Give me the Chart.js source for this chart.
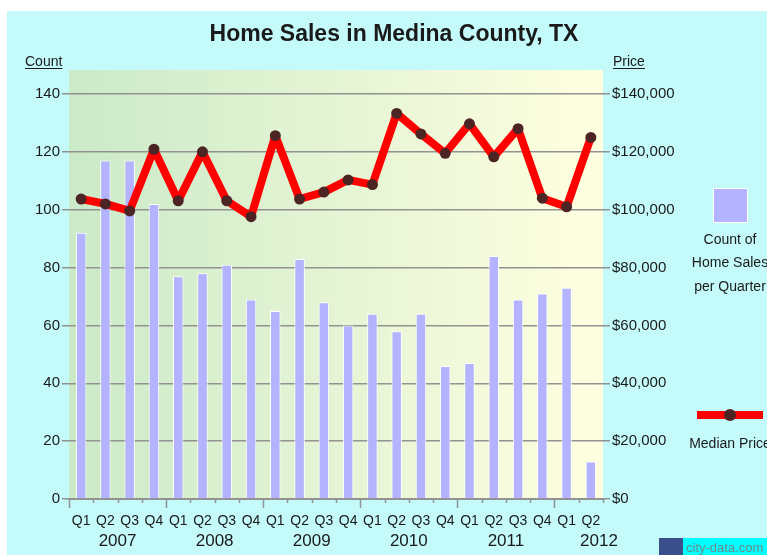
<!DOCTYPE html>
<html>
<head>
<meta charset="utf-8">
<title>Home Sales in Medina County, TX</title>
<script src="https://cdn.jsdelivr.net/npm/chart.js@4/dist/chart.umd.min.js"></script>
<style>
  html, body { margin: 0; padding: 0; background: #fff; }
  #wrap { position: relative; width: 767px; height: 555px; }
</style>
</head>
<body>
<div id="wrap"><canvas id="sales-chart" width="767" height="555"></canvas></div>
<script>
// quarters from 2007 Q1 to 2012 Q2
const quarters = ['Q1', 'Q2', 'Q3', 'Q4', 'Q1', 'Q2', 'Q3', 'Q4', 'Q1', 'Q2', 'Q3', 'Q4',
                  'Q1', 'Q2', 'Q3', 'Q4', 'Q1', 'Q2', 'Q3', 'Q4', 'Q1', 'Q2'];
const years = ['2007', '2008', '2009', '2010', '2011', '2012'];
const salesCount = [92, 117, 117, 102, 77, 78, 81, 69, 65, 83, 68, 60,
                    64, 58, 64, 46, 47, 84, 69, 71, 73, 13];
const medianPrice = [103700, 102000, 99600, 120900, 103100, 120000, 103100, 97600, 125600, 103700, 106100, 110300,
                     108700, 133300, 126200, 119500, 129700, 118300, 128000, 104000, 101000, 125000];
const countTicks = [0, 20, 40, 60, 80, 100, 120, 140];
const priceTicks = [0, 20000, 40000, 60000, 80000, 100000, 120000, 140000];

const FONT = '"Liberation Sans", Arial, sans-serif';
const TEXT = '#1a1a1a';
const GRID = '#929292';

// background, plot gradient and all the extra text
const decorations = {
    id: 'decorations',
    beforeDraw(chart) {
        const ctx = chart.ctx;
        const a = chart.chartArea;
        ctx.save();
        ctx.fillStyle = '#fff';
        ctx.fillRect(0, 0, chart.width, chart.height);
        ctx.fillStyle = '#c4fafa';
        ctx.fillRect(7, 11, chart.width - 7, chart.height - 11);
        const g = ctx.createLinearGradient(a.left, 0, a.right, 0);
        g.addColorStop(0, '#cbeac8');
        g.addColorStop(1, '#ffffe0');
        ctx.fillStyle = g;
        ctx.fillRect(a.left, a.top, a.right - a.left, a.bottom - a.top);
        ctx.restore();
    },
    afterDraw(chart) {
        const ctx = chart.ctx;
        const a = chart.chartArea;
        const xs = chart.scales.x;
        const step = xs.getPixelForValue(1) - xs.getPixelForValue(0);
        ctx.save();

        // title
        ctx.fillStyle = TEXT;
        ctx.font = 'bold 23px ' + FONT;
        ctx.textAlign = 'center';
        ctx.textBaseline = 'alphabetic';
        ctx.fillText('Home Sales in Medina County, TX', 394, 41);

        // axis captions, underlined
        ctx.font = '14px ' + FONT;
        ctx.textAlign = 'left';
        [['Count', 25], ['Price', 613]].forEach(([t, x]) => {
            ctx.fillText(t, x, 66);
            const w = ctx.measureText(t).width;
            ctx.fillRect(x, 68, w, 1);
        });

        // x tick marks, longer at year boundaries
        ctx.strokeStyle = GRID;
        ctx.lineWidth = 1.5;
        for (let k = 0; k <= quarters.length; k++) {
            const x = Math.round(a.left + k * step) + 0.5;
            ctx.beginPath();
            ctx.moveTo(x, a.bottom);
            ctx.lineTo(x, a.bottom + (k % 4 === 0 ? 9 : 4));
            ctx.stroke();
        }

        // year labels under the quarters
        ctx.fillStyle = TEXT;
        ctx.font = '17px ' + FONT;
        ctx.textAlign = 'center';
        ctx.textBaseline = 'middle';
        years.forEach((y, i) => {
            let x = xs.getPixelForValue(i * 4) + 1.5 * step;
            x = Math.min(x, a.right - 4);
            ctx.fillText(y, x, 541);
        });

        // legend: bars
        ctx.fillStyle = '#b3b3ff';
        ctx.fillRect(713, 188, 35, 35);
        ctx.strokeStyle = '#fff';
        ctx.lineWidth = 1;
        ctx.strokeRect(713.5, 188.5, 34, 34);
        ctx.fillStyle = TEXT;
        ctx.font = '14px ' + FONT;
        ctx.fillText('Count of', 730, 240);
        ctx.fillText('Home Sales', 730, 263);
        ctx.fillText('per Quarter', 730, 287);

        // legend: line
        ctx.strokeStyle = '#ff0000';
        ctx.lineWidth = 8;
        ctx.beginPath();
        ctx.moveTo(697, 415);
        ctx.lineTo(763, 415);
        ctx.stroke();
        ctx.fillStyle = '#4d2424';
        ctx.beginPath();
        ctx.arc(730, 415, 6, 0, Math.PI * 2);
        ctx.fill();
        ctx.fillStyle = TEXT;
        ctx.fillText('Median Price', 730, 444);

        // watermark
        ctx.fillStyle = '#3b4f8a';
        ctx.fillRect(659, 538, 24, 17);
        ctx.fillStyle = '#00ffff';
        ctx.fillRect(683, 538, 84, 17);
        ctx.fillStyle = '#6a8a8a';
        ctx.font = '13px ' + FONT;
        ctx.textAlign = 'left';
        ctx.fillText('city-data.com', 686, 548);
        ctx.restore();
    }
};

const ctx = document.getElementById('sales-chart').getContext('2d');
new Chart(ctx, {
    data: {
        labels: quarters,
        datasets: [{
            type: 'line',
            label: 'Median Price',
            data: medianPrice,
            yAxisID: 'y1',
            borderColor: '#ff0000',
            borderWidth: 8,
            borderJoinStyle: 'round',
            borderCapStyle: 'round',
            pointRadius: 5.5,
            pointBackgroundColor: '#4d2424',
            pointBorderWidth: 0,
            tension: 0,
            order: 0
        }, {
            type: 'bar',
            label: 'Count of Home Sales per Quarter',
            data: salesCount,
            yAxisID: 'y',
            backgroundColor: '#b3b3ff',
            borderColor: '#ffffff',
            borderWidth: 1,
            categoryPercentage: 1,
            barPercentage: 0.43,
            order: 1
        }]
    },
    options: {
        responsive: false,
        animation: false,
        layout: { padding: { top: 70 } },
        plugins: {
            legend: { display: false },
            tooltip: { enabled: false },
            title: { display: false }
        },
        scales: {
            x: {
                offset: true,
                grid: { display: false },
                border: { color: GRID, width: 2 },
                ticks: { color: TEXT, font: { family: FONT, size: 14 }, padding: 6, maxRotation: 0, autoSkip: false },
                afterFit(s) { s.height = 56; }
            },
            y: {
                position: 'left',
                min: 0,
                max: 148.3,
                afterBuildTicks(s) { s.ticks = countTicks.map(v => ({ value: v })); },
                grid: { color: GRID, lineWidth: 1.5, tickLength: 7 },
                border: { display: false },
                ticks: { color: TEXT, font: { family: FONT, size: 15 }, padding: 2 },
                afterFit(s) { s.width = 69; }
            },
            y1: {
                position: 'right',
                min: 0,
                max: 148300,
                afterBuildTicks(s) { s.ticks = priceTicks.map(v => ({ value: v })); },
                grid: { drawOnChartArea: false, color: GRID, lineWidth: 1.5, tickLength: 7 },
                border: { display: false },
                ticks: {
                    color: TEXT,
                    font: { family: FONT, size: 15 },
                    padding: 2,
                    callback: v => '$' + v.toLocaleString('en-US')
                },
                afterFit(s) { s.width = 164; }
            }
        }
    },
    plugins: [decorations]
});
</script>
</body>
</html>
